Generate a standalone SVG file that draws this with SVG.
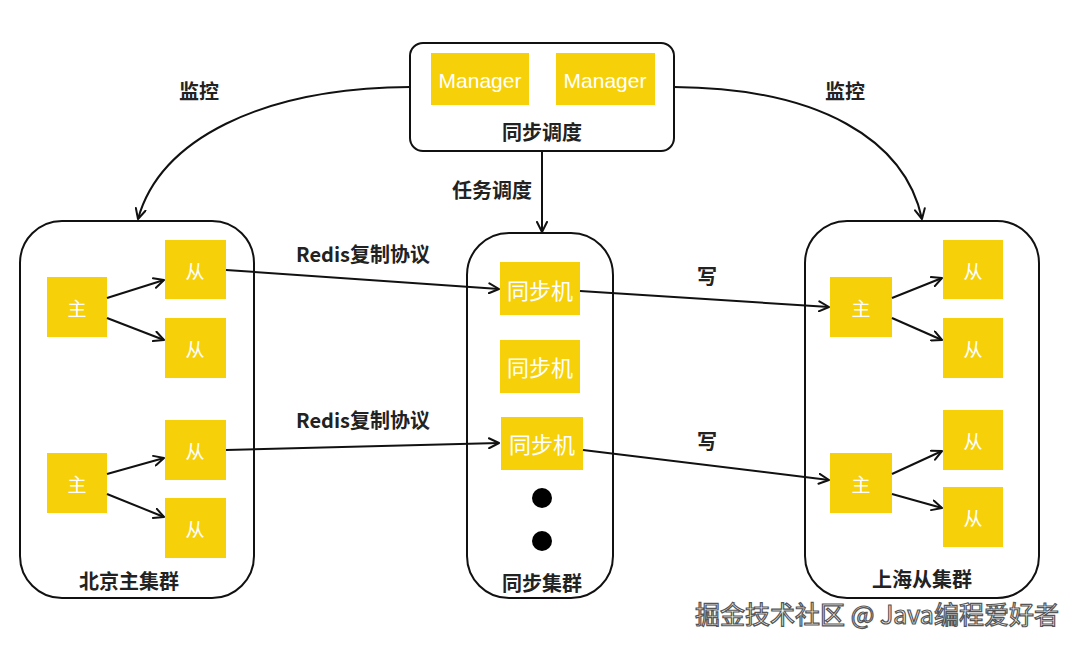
<svg xmlns="http://www.w3.org/2000/svg" width="1080" height="648" viewBox="0 0 1080 648">
<defs>
<marker id="arr" viewBox="0 0 12 12" refX="11" refY="6" markerWidth="12" markerHeight="12" markerUnits="userSpaceOnUse" orient="auto">
<path d="M1,1 L11,6 L1,11" fill="none" stroke="#111" stroke-width="2" stroke-linecap="round" stroke-linejoin="round"/>
</marker>
<style>
.cl{fill:#fff;stroke:#111;stroke-width:2}
.y{fill:#F6D10A}
.w{fill:#fff;font-family:"Noto Sans CJK SC","Liberation Sans",sans-serif;text-anchor:middle;dominant-baseline:central}
.m{fill:#fff;font-family:"Liberation Sans",sans-serif;text-anchor:middle;dominant-baseline:central;font-size:21px}
.lb{fill:#222;font-family:"Noto Sans CJK SC","Liberation Sans",sans-serif;font-weight:bold;text-anchor:middle;dominant-baseline:central;font-size:20px}
.c{fill:none;stroke:#111;stroke-width:2;marker-end:url(#arr)}
</style>
</defs>
<rect width="1080" height="648" fill="#fff"/>
<g id="sched">
<rect class="cl" x="410" y="43" width="264" height="108" rx="13"/>
<rect class="y" x="431" y="53" width="98" height="52"/>
<text class="m" x="480" y="80">Manager</text>
<rect class="y" x="556" y="53" width="99" height="52"/>
<text class="m" x="605" y="80">Manager</text>
<text class="lb" x="542" y="131" font-size="22">同步调度</text>
</g>
<g id="beijing">
<rect class="cl" x="20" y="221" width="234" height="377" rx="42"/>
<rect class="y" x="47" y="277" width="60" height="60"/><text class="w" x="77" y="307" font-size="19">主</text>
<rect class="y" x="47" y="453" width="60" height="60"/><text class="w" x="77" y="483" font-size="19">主</text>
<rect class="y" x="165" y="240" width="61" height="59"/><text class="w" x="195" y="270" font-size="19">从</text>
<rect class="y" x="165" y="318" width="61" height="60"/><text class="w" x="195" y="348" font-size="19">从</text>
<rect class="y" x="165" y="420" width="61" height="60"/><text class="w" x="195" y="450" font-size="19">从</text>
<rect class="y" x="165" y="498" width="61" height="60"/><text class="w" x="195" y="528" font-size="19">从</text>
<text class="lb" x="129" y="580">北京主集群</text>
</g>
<g id="sync">
<rect class="cl" x="467" y="233" width="146" height="365" rx="42"/>
<rect class="y" x="500" y="262" width="80" height="53"/><text class="w" x="540" y="289" font-size="22">同步机</text>
<rect class="y" x="500" y="340" width="80" height="53"/><text class="w" x="540" y="366" font-size="22">同步机</text>
<rect class="y" x="501" y="417" width="82" height="53"/><text class="w" x="542" y="443" font-size="22">同步机</text>
<circle cx="542" cy="498" r="10" fill="#000"/>
<circle cx="542" cy="541" r="10" fill="#000"/>
<text class="lb" x="542" y="582">同步集群</text>
</g>
<g id="shanghai">
<rect class="cl" x="805" y="221" width="234" height="377" rx="42"/>
<rect class="y" x="830" y="277" width="62" height="60"/><text class="w" x="861" y="307" font-size="19">主</text>
<rect class="y" x="830" y="453" width="62" height="60"/><text class="w" x="861" y="483" font-size="19">主</text>
<rect class="y" x="943" y="240" width="60" height="59"/><text class="w" x="973" y="270" font-size="19">从</text>
<rect class="y" x="943" y="318" width="60" height="60"/><text class="w" x="973" y="348" font-size="19">从</text>
<rect class="y" x="943" y="410" width="60" height="60"/><text class="w" x="973" y="440" font-size="19">从</text>
<rect class="y" x="943" y="487" width="60" height="60"/><text class="w" x="973" y="517" font-size="19">从</text>
<text class="lb" x="922" y="578">上海从集群</text>
</g>
<g id="connectors">
<path class="c" d="M410,87 C260,88 160,140 138,219"/>
<path class="c" d="M674,87 C820,88 905,140 922,219"/>
<path class="c" d="M542,151 L542,232"/>
<path class="c" d="M107,298 L164,280"/>
<path class="c" d="M107,318 L164,340"/>
<path class="c" d="M107,474 L164,458"/>
<path class="c" d="M107,494 L164,517"/>
<path class="c" d="M892,298 L942,278"/>
<path class="c" d="M892,318 L942,340"/>
<path class="c" d="M892,474 L942,451"/>
<path class="c" d="M892,494 L942,508"/>
<path class="c" d="M226,270 L499,289"/>
<path class="c" d="M226,450 L499,443"/>
<path class="c" d="M580,291 L829,307"/>
<path class="c" d="M583,450 L829,480"/>
<text class="lb" x="199" y="90">监控</text>
<text class="lb" x="845" y="90">监控</text>
<text class="lb" x="492" y="189">任务调度</text>
<text class="lb" x="363" y="253">Redis复制协议</text>
<text class="lb" x="363" y="419">Redis复制协议</text>
<text class="lb" x="707" y="275">写</text>
<text class="lb" x="707" y="440">写</text>
</g>
<text x="877" y="613" font-family="Noto Sans CJK SC,sans-serif" font-size="25" text-anchor="middle" dominant-baseline="central" fill="#fff" stroke="#555" stroke-width="1.2">掘金技术社区 @ Java编程爱好者</text>
</svg>
